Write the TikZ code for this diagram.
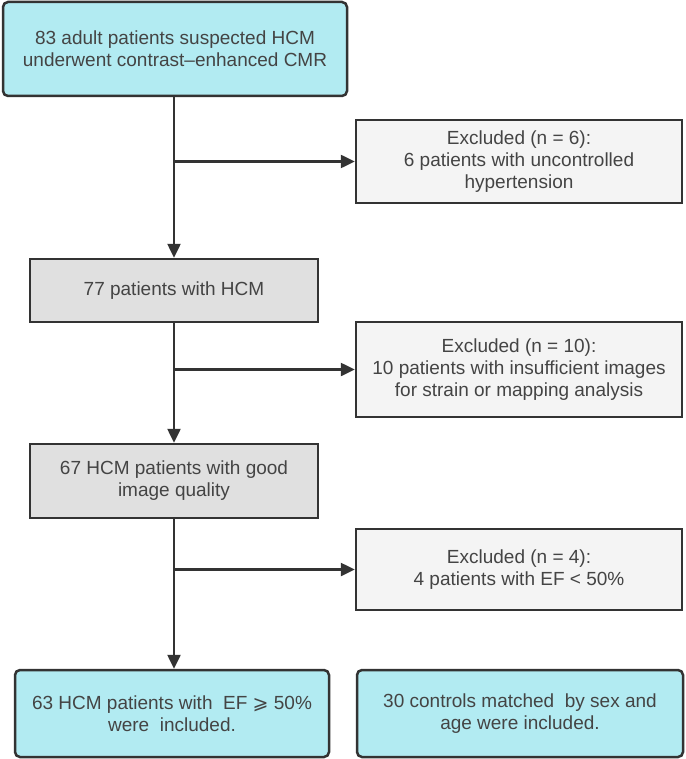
\documentclass[tikz,border=0pt]{standalone}
\usepackage{fontspec}
\setmainfont{Liberation Sans}
\newfontfamily\symfont{DejaVu Sans}
\usetikzlibrary{arrows.meta}
\definecolor{cyanbox}{RGB}{178,235,242}
\definecolor{graybox}{RGB}{224,224,224}
\definecolor{exclbox}{RGB}{244,244,244}
\definecolor{edge}{RGB}{51,51,51}
\definecolor{txt}{RGB}{68,68,68}
\tikzset{
  basebox/.style={draw=edge, line width=2.5pt, inner sep=0pt, align=center, text=txt,
    font=\fontsize{19}{22}\selectfont},
  mainbox/.style={basebox, fill=cyanbox, rounded corners=5pt},
  stepbox/.style={basebox, fill=graybox},
  exclbox/.style={basebox, fill=exclbox},
  arr/.style={draw=edge, line width=2.5pt, -{Triangle[length=14pt,width=13pt]}},
  ln/.style={draw=edge, line width=2.5pt}
}
\begin{document}
\begin{tikzpicture}[x=1pt,y=-1pt]
\useasboundingbox (0,0) rectangle (685,759);
\node[mainbox, minimum width=344pt, minimum height=94pt] (top) at (175,49)
  {83 adult patients suspected HCM\\underwent contrast–enhanced CMR};
\node[exclbox, minimum width=326pt, minimum height=83pt] (e1) at (519,161.5)
  {Excluded (n = 6):\\6 patients with uncontrolled\\hypertension};
\node[stepbox, minimum width=288pt, minimum height=63pt] (b2) at (174,290.5)
  {77 patients with HCM};
\node[exclbox, minimum width=326pt, minimum height=95pt] (e2) at (519,369.5)
  {Excluded (n = 10):\\10 patients with insufficient images\\for strain or mapping analysis};
\node[stepbox, minimum width=288pt, minimum height=74pt] (b3) at (174,481)
  {67 HCM patients with good\\image quality};
\node[exclbox, minimum width=326pt, minimum height=81pt] (e3) at (519,569.5)
  {Excluded (n = 4):\\4 patients with EF < 50\%};
\node[mainbox, minimum width=314pt, minimum height=87pt] (f1) at (172,713.5)
  {63 HCM patients with~ EF {\symfont ⩾} 50\%\\were~ included.};
\node[mainbox, minimum width=326pt, minimum height=87pt] (f2) at (520,713.5)
  {30 controls matched~ by sex and\\age were included.};
\coordinate (k1) at (174,161.5);
\coordinate (k2) at (174,369.5);
\coordinate (k3) at (174,569.5);
\draw[arr] (b2.north |- top.south) -- (b2.north);
\draw[arr] (k1) -- (e1.west);
\draw[arr] (b2.south) -- (b3.north);
\draw[arr] (k2) -- (e2.west);
\draw[arr] (b3.south) -- (b3.south |- f1.north);
\draw[arr] (k3) -- (e3.west);
\end{tikzpicture}
\end{document}
